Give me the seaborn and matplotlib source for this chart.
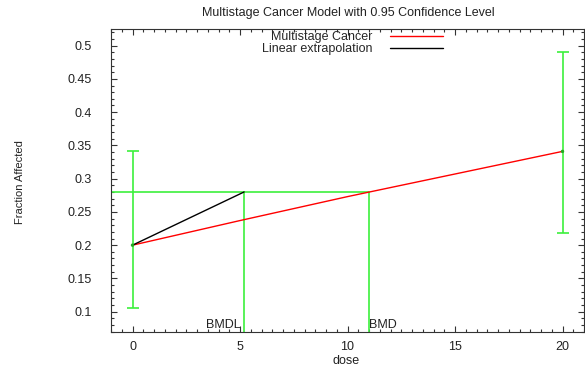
import matplotlib
matplotlib.use("Agg")
import matplotlib.pyplot as plt
import seaborn as sns
import pandas as pd
from matplotlib.ticker import MultipleLocator
from matplotlib.lines import Line2D

# data
dose = [0, 20]
frac = [0.200, 0.341]
lower = [0.106, 0.218]
upper = [0.342, 0.490]

model_dose = [0, 5, 10, 15, 20]
model_frac = [0.200, 0.237, 0.273, 0.307, 0.341]

bmr_level = 0.28
bmd = 10.98
bmdl = 5.19
bg_level = 0.200

xticks = [0, 5, 10, 15, 20]
yticks = [0.1, 0.15, 0.2, 0.25, 0.3, 0.35, 0.4, 0.45, 0.5]

sns.set_style("ticks")
plt.rcParams['font.family'] = ['Liberation Sans', 'DejaVu Sans']

GREEN = '#3cf03c'

fig = plt.figure(figsize=(5.85, 3.66), dpi=100)
ax = fig.add_axes([111/585, 1-332.3/366, 473/585, 303.3/366])

df_model = pd.DataFrame({"dose": model_dose, "frac": model_frac})
df_pts = pd.DataFrame({"dose": dose, "frac": frac})

# error bars
yerr = [[f - l for f, l in zip(frac, lower)], [u - f for f, u in zip(frac, upper)]]
ax.errorbar(dose, frac, yerr=yerr, fmt='none', ecolor=GREEN, elinewidth=1.2,
            capsize=4, capthick=1.2, zorder=2)

# BMD / BMDL lines
ax.plot([-1, bmd], [bmr_level, bmr_level], color=GREEN, lw=1.2, zorder=2)
ax.plot([bmdl, bmdl], [0.0, bmr_level], color=GREEN, lw=1.2, zorder=2)
ax.plot([bmd, bmd], [0.0, bmr_level], color=GREEN, lw=1.2, zorder=2)

# model curve
sns.lineplot(data=df_model, x="dose", y="frac", ax=ax, color='#ff0000', lw=1.0,
             label="Multistage Cancer", zorder=3)
# linear extrapolation
ax.plot([0, bmdl], [bg_level, bmr_level], color='black', lw=1.0, zorder=3)

sns.scatterplot(data=df_pts, x="dose", y="frac", ax=ax, color='#22aa22', s=6,
                edgecolor='none', zorder=4, legend=False)

ax.text(bmdl - 0.15, 0.0705, "BMDL", ha='right', va='bottom', fontsize=9, color='#222222')
ax.text(bmd, 0.0705, "BMD", ha='left', va='bottom', fontsize=9, color='#222222')

ax.set_xlim(-1, 21)
ax.set_ylim(0.069, 0.525)
ax.set_xticks(xticks)
ax.set_yticks(yticks)
ax.set_xticklabels([str(t) for t in xticks])
ax.set_yticklabels([f"{t:g}" for t in yticks])
ax.xaxis.set_minor_locator(MultipleLocator(0.5))
ax.yaxis.set_minor_locator(MultipleLocator(0.01))
ax.tick_params(which='both', direction='in', top=True, right=True, colors='#333333',
               width=0.8)
ax.tick_params(which='major', length=4)
ax.tick_params(which='minor', length=2)
ax.tick_params(axis='y', which='major', pad=14, labelsize=9, labelcolor='#222222')
ax.tick_params(axis='x', which='major', pad=6, labelsize=9, labelcolor='#222222')
for s in ax.spines.values():
    s.set_color('#333333')
    s.set_linewidth(0.8)

ax.set_xlabel("dose", fontsize=9, color='#222222')
ax.xaxis.set_label_coords(0.497, -0.074)
ax.set_ylabel("Fraction Affected", fontsize=8, color='#222222')
ax.yaxis.set_label_coords(-0.182, 0.494)
fig.text(348/585, 1-13/366, "Multistage Cancer Model with 0.95 Confidence Level",
         ha='center', va='center', fontsize=9, color='#222222')

handles = [Line2D([], [], color='#ff0000', lw=1.0), Line2D([], [], color='black', lw=1.0)]
ax.legend(handles, ["Multistage Cancer", "Linear extrapolation"], markerfirst=False,
          frameon=False, fontsize=9, handlelength=4.3, handletextpad=1.4,
          labelspacing=0.0, loc='upper right', bbox_to_anchor=((444-111)/473, 0.995),
          borderaxespad=0.0, borderpad=0.05)

fig.savefig("out.png", dpi=100)
